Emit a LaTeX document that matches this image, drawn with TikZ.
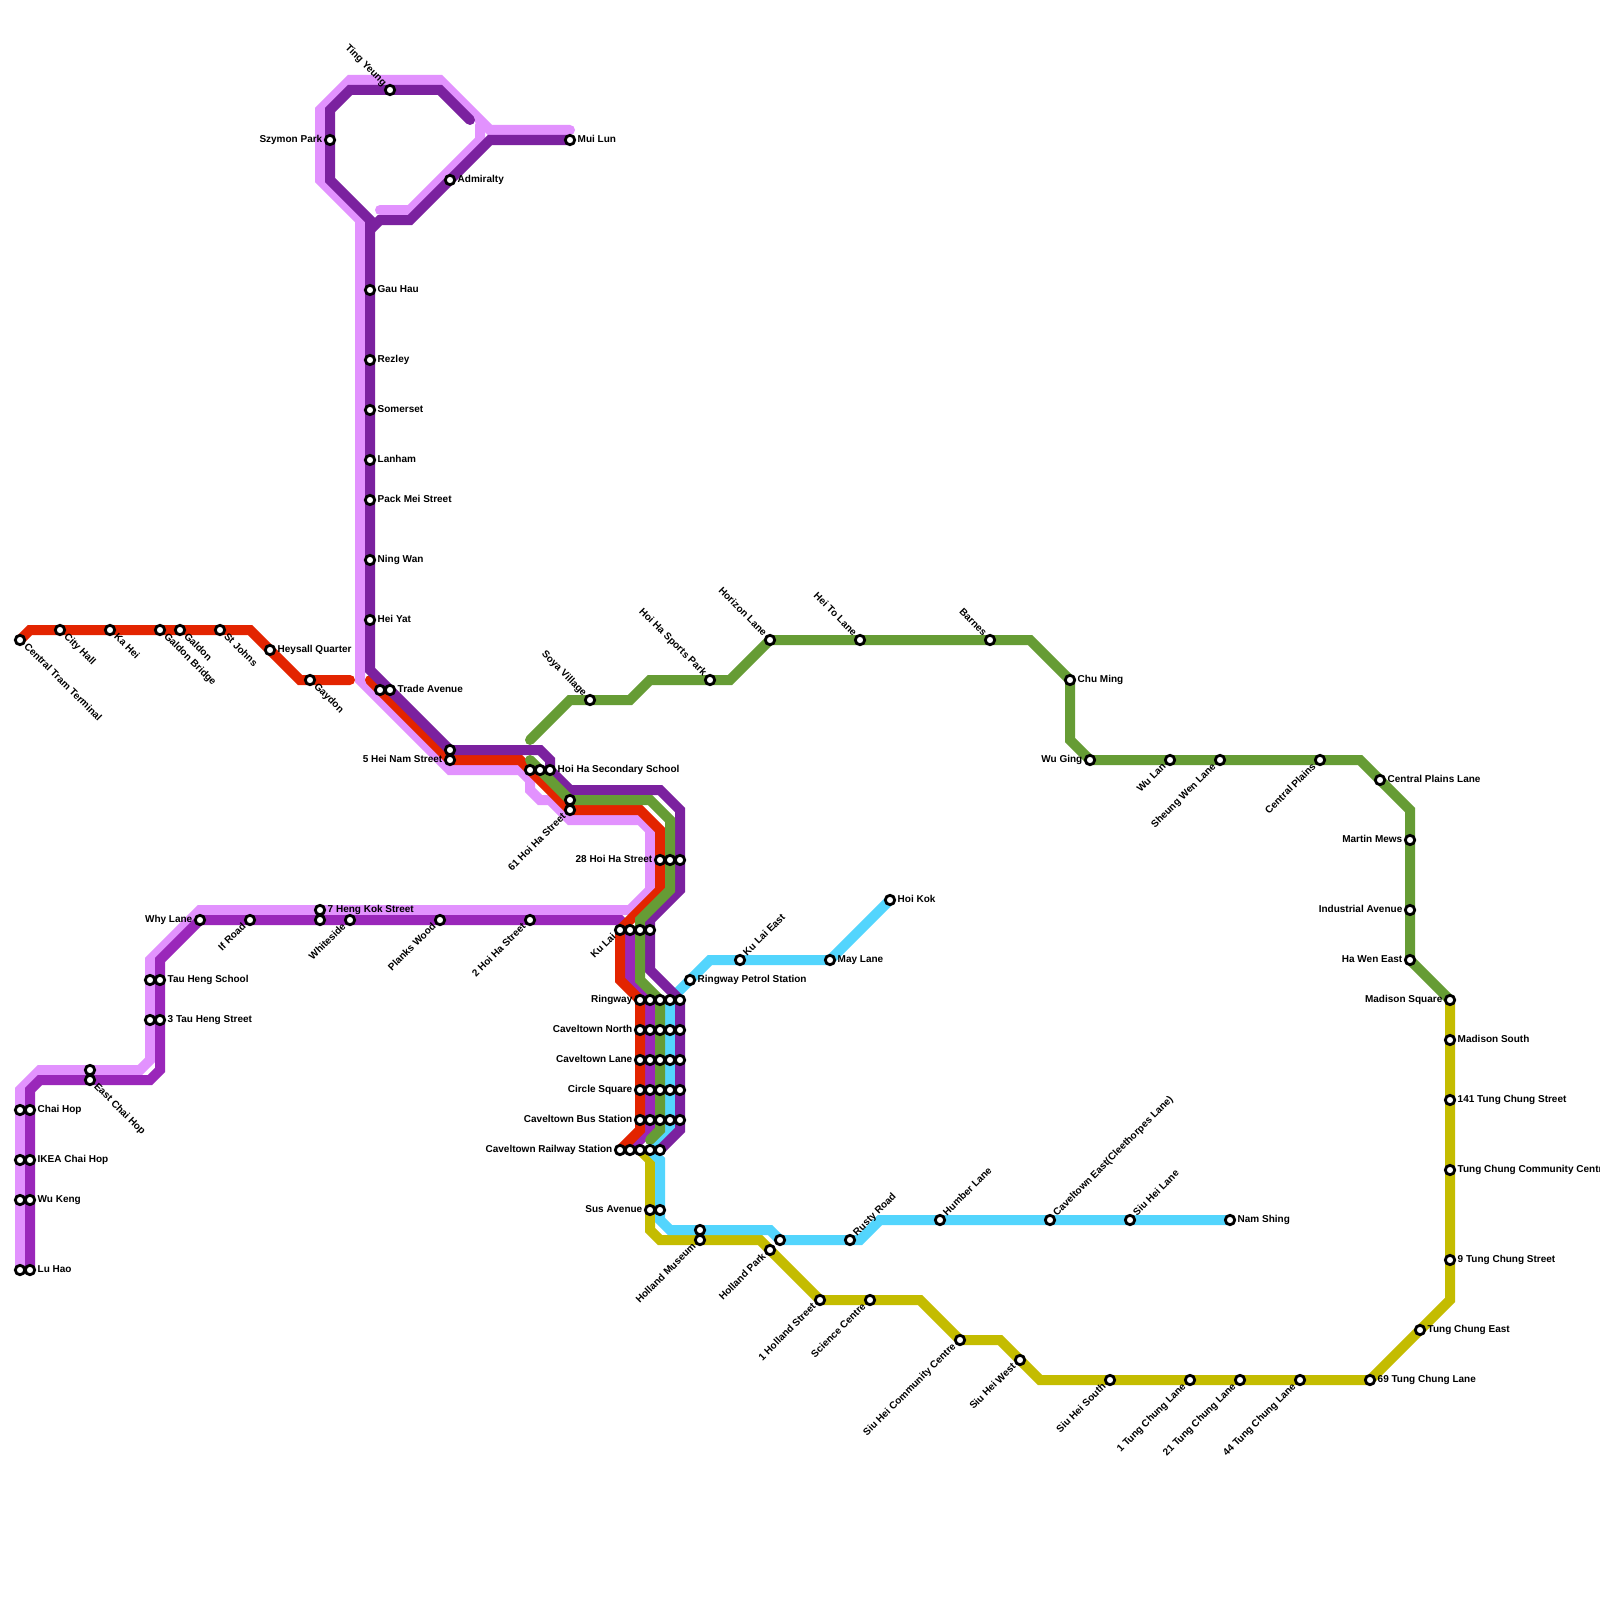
\documentclass[tikz,border=0pt]{standalone}
\usepackage{fontspec}
\setmainfont{Liberation Sans}
\definecolor{cRed}{HTML}{E32400}
\definecolor{cPink}{HTML}{E292FE}
\definecolor{cDark}{HTML}{7B219F}
\definecolor{cMid}{HTML}{9A27BA}
\definecolor{cGreen}{HTML}{669C35}
\definecolor{cBlue}{HTML}{53D5FD}
\definecolor{cYellow}{HTML}{C4BC00}
\tikzset{
  metro/.style={line width=10pt,line cap=round,line join=miter,miter limit=10},
  stn/.style={circle,draw=black,fill=white,line width=2.8pt,minimum size=9.4pt,inner sep=0pt,outer sep=0pt},
  lab/.style={font=\bfseries\fontsize{10}{12}\selectfont,text=black,text height=7pt,text depth=2pt,inner ysep=0pt,inner xsep=7.5pt},
  tR/.style={lab,anchor=west},
  tL/.style={lab,anchor=east},
  tDR/.style={lab,anchor=west,rotate=-45},
  tDL/.style={lab,anchor=east,rotate=45},
  tUR/.style={lab,anchor=west,rotate=45},
  tUL/.style={lab,anchor=east,rotate=-45},
}
\begin{document}
\begin{tikzpicture}[x=1pt,y=-1pt]
\useasboundingbox (0,0) rectangle (1600,1600);
\fill[white] (0,0) rectangle (1600,1600);
% station coordinates
\foreach \n/\x/\y in {
 centraltram/20/640,cityhall/60/630,kahei/110/630,galdonbridge/160/630,galdon/180/630,stjohns/220/630,
 heysall/270/650,gaydon/310/680,tradeR/380/690,tradeP/390/690,heinamP/450/750,heinamR/450/760,
 schoolR/530/770,schoolG/540/770,schoolP/550/770,sixtyP/570/800,sixtyR/570/810,
 twentyR/660/860,twentyG/670/860,twentyP/680/860,
 kulaiR/620/930,kulaiM/630/930,kulaiG/640/930,kulaiP/650/930,
 railR/620/1150,railM/630/1150,railY/640/1150,railB/650/1150,railP/660/1150,
 susY/650/1210,susB/660/1210,museumB/700/1230,museumY/700/1240,parkB/780/1240,parkY/770/1250,
 rusty/850/1240,science/870/1300,holland/820/1300,humber/940/1220,caveast/1050/1220,siuheilane/1130/1220,namshing/1230/1220,
 siucc/960/1340,siuwest/1020/1360,siusouth/1110/1380,tung1/1190/1380,tung21/1240/1380,tung44/1300/1380,tung69/1370/1380,
 tungeast/1420/1330,tung9/1450/1260,tungcc/1450/1170,tung141/1450/1100,madsouth/1450/1040,madsquare/1450/1000,
 petrol/690/980,kulaieast/740/960,maylane/830/960,hoikok/890/900,
 soya/590/700,sports/710/680,horizon/770/640,heito/860/640,barnes/990/640,chuming/1070/680,wuging/1090/760,
 wulan/1170/760,sheung/1220/760,plains/1320/760,plainslane/1380/780,martin/1410/840,industrial/1410/910,hawen/1410/960,
 muilun/570/140,tingyeung/390/90,szymon/330/140,admiralty/450/180,gauhau/370/290,rezley/370/360,somerset/370/410,
 lanham/370/460,packmei/370/500,ningwan/370/560,heiyat/370/620,
 whylane/200/920,ifroad/250/920,hengP/320/910,hengM/320/920,whiteside/350/920,planks/440/920,hoi2/530/920,
 tauP/150/980,tauM/160/980,tau3P/150/1020,tau3M/160/1020,eastP/90/1070,eastM/90/1080,
 chaiP/20/1110,chaiM/30/1110,ikeaP/20/1160,ikeaM/30/1160,wukengP/20/1200,wukengM/30/1200,luhaoP/20/1270,luhaoM/30/1270}
 {\coordinate (\n) at (\x,\y);}
\foreach \y/\r in {1000/ring,1030/north,1060/lane,1090/circle,1120/bus}
 \foreach \x/\c in {640/R,650/M,660/G,670/B,680/P}
  {\coordinate (\r\c) at (\x,\y);}
% lines
\draw[metro,cPink] (380,210) -- (410,210) -- (480,140) -- (480,125);
\draw[metro,cPink] (570,130) -- (490,130) -- (440,80) -- (350,80) -- (320,110) -- (320,180) -- (360,220) -- (360,680) -- (450,770) -- (520,770) -- (530,780) -- (530,790) -- (540,800) -- (550,800) -- (570,820) -- (640,820) -- (650,830) -- (650,890) -- (630,910) -- (200,910) -- (150,960) -- (150,1060) -- (140,1070) -- (40,1070) -- (20,1090) -- (luhaoP);
\draw[metro,cMid] (luhaoM) -- (30,1090) -- (40,1080) -- (150,1080) -- (160,1070) -- (160,960) -- (whylane) -- (620,920) -- (kulaiM) -- (630,980) -- (ringM) -- (busM) -- (650,1130) -- (railM);
\draw[metro,cYellow] (railY) -- (650,1160) -- (650,1230) -- (660,1240) -- (760,1240) -- (holland) -- (920,1300) -- (siucc) -- (1000,1340) -- (1040,1380) -- (tung69) -- (1450,1300) -- (madsquare);
\draw[metro,cBlue] (hoikok) -- (maylane) -- (710,960) -- (ringB) -- (busB) -- (670,1130) -- (railB) -- (660,1160) -- (660,1220) -- (670,1230) -- (770,1230) -- (parkB) -- (860,1240) -- (880,1220) -- (namshing);
\draw[metro,cRed] (centraltram) -- (30,630) -- (250,630) -- (300,680) -- (350,680);
\draw[metro,cRed] (370,680) -- (heinamR) -- (520,760) -- (schoolR) -- (sixtyR) -- (640,810) -- (660,830) -- (660,890) -- (kulaiR) -- (620,980) -- (ringR) -- (busR) -- (640,1130) -- (railR);
\draw[metro,cDark] (470,120) -- (440,90) -- (350,90) -- (330,110) -- (330,180) -- (370,220) -- (370,670) -- (heinamP) -- (540,750) -- (550,760) -- (schoolP) -- (570,790) -- (660,790) -- (680,810) -- (680,890) -- (650,920) -- (kulaiP) -- (650,970) -- (ringP) -- (busP) -- (680,1130) -- (railP);
\draw[metro,cDark] (370,230) -- (380,220) -- (410,220) -- (490,140) -- (muilun);
\draw[metro,cGreen] (530,740) -- (570,700) -- (630,700) -- (650,680) -- (730,680) -- (horizon) -- (1030,640) -- (chuming) -- (1070,740) -- (wuging) -- (1360,760) -- (1410,810) -- (hawen) -- (madsquare);
\draw[metro,cGreen] (530,760) -- (sixtyP) -- (650,800) -- (670,820) -- (670,890) -- (640,920) -- (kulaiG) -- (640,980) -- (ringG) -- (busG) -- (660,1130) -- (650,1140);
% stations
\foreach \n in {centraltram,cityhall,kahei,galdonbridge,galdon,stjohns,heysall,gaydon,tradeR,tradeP,heinamP,heinamR,
 schoolR,schoolG,schoolP,sixtyP,sixtyR,twentyR,twentyG,twentyP,kulaiR,kulaiM,kulaiG,kulaiP,railR,railM,railY,railB,railP,
 susY,susB,museumB,museumY,parkB,parkY,rusty,science,holland,humber,caveast,siuheilane,namshing,
 siucc,siuwest,siusouth,tung1,tung21,tung44,tung69,tungeast,tung9,tungcc,tung141,madsouth,madsquare,
 petrol,kulaieast,maylane,hoikok,soya,sports,horizon,heito,barnes,chuming,wuging,wulan,sheung,plains,plainslane,martin,industrial,hawen,
 muilun,tingyeung,szymon,admiralty,gauhau,rezley,somerset,lanham,packmei,ningwan,heiyat,
 whylane,ifroad,hengP,hengM,whiteside,planks,hoi2,tauP,tauM,tau3P,tau3M,eastP,eastM,
 chaiP,chaiM,ikeaP,ikeaM,wukengP,wukengM,luhaoP,luhaoM}
 {\node[stn] (st-\n) at (\n) {};}
\foreach \r in {ring,north,lane,circle,bus}
 \foreach \c in {R,M,G,B,P}
  {\node[stn] (st-\r\c) at (\r\c) {};}
% labels
\foreach \n/\t in {heysall/Heysall Quarter,tradeP/Trade Avenue,schoolP/Hoi Ha Secondary School,muilun/Mui Lun,admiralty/Admiralty,
 gauhau/Gau Hau,rezley/Rezley,somerset/Somerset,lanham/Lanham,packmei/Pack Mei Street,ningwan/Ning Wan,heiyat/Hei Yat,
 hengP/7 Heng Kok Street,tauM/Tau Heng School,tau3M/3 Tau Heng Street,chaiM/Chai Hop,ikeaM/IKEA Chai Hop,wukengM/Wu Keng,luhaoM/Lu Hao,
 petrol/Ringway Petrol Station,maylane/May Lane,hoikok/Hoi Kok,namshing/Nam Shing,chuming/Chu Ming,plainslane/Central Plains Lane,
 madsouth/Madison South,tung141/141 Tung Chung Street,tungcc/Tung Chung Community Centre,tung9/9 Tung Chung Street,tungeast/Tung Chung East,tung69/69 Tung Chung Lane}
 {\node[tR] (lb-\n) at (\n) {\t};}
\foreach \n/\t in {szymon/Szymon Park,heinamR/5 Hei Nam Street,twentyR/28 Hoi Ha Street,whylane/Why Lane,ringR/Ringway,northR/Caveltown North,laneR/Caveltown Lane,
 circleR/Circle Square,busR/Caveltown Bus Station,railR/Caveltown Railway Station,susY/Sus Avenue,wuging/Wu Ging,martin/Martin Mews,industrial/Industrial Avenue,hawen/Ha Wen East,madsquare/Madison Square}
 {\node[tL] (lb-\n) at (\n) {\t};}
\foreach \n/\t in {centraltram/Central Tram Terminal,cityhall/City Hall,kahei/Ka Hei,galdonbridge/Galdon Bridge,galdon/Galdon,stjohns/St Johns,gaydon/Gaydon,eastM/East Chai Hop}
 {\node[tDR] (lb-\n) at (\n) {\t};}
\foreach \n/\t in {ifroad/If Road,whiteside/Whiteside,planks/Planks Wood,hoi2/2 Hoi Ha Street,kulaiR/Ku Lai,sixtyR/61 Hoi Ha Street,museumY/Holland Museum,parkY/Holland Park,
 holland/1 Holland Street,science/Science Centre,siucc/Siu Hei Community Centre,siuwest/Siu Hei West,siusouth/Siu Hei South,tung1/1 Tung Chung Lane,tung21/21 Tung Chung Lane,tung44/44 Tung Chung Lane,
 wulan/Wu Lan,sheung/Sheung Wen Lane,plains/Central Plains}
 {\node[tDL] (lb-\n) at (\n) {\t};}
\foreach \n/\t in {kulaieast/Ku Lai East,rusty/Rusty Road,humber/Humber Lane,caveast/{Caveltown East(Cleethorpes Lane)},siuheilane/Siu Hei Lane}
 {\node[tUR] (lb-\n) at (\n) {\t};}
\foreach \n/\t in {tingyeung/Ting Yeung,soya/Soya Village,sports/Hoi Ha Sports Park,horizon/Horizon Lane,heito/Hei To Lane,barnes/Barnes}
 {\node[tUL] (lb-\n) at (\n) {\t};}
\end{tikzpicture}
\end{document}
